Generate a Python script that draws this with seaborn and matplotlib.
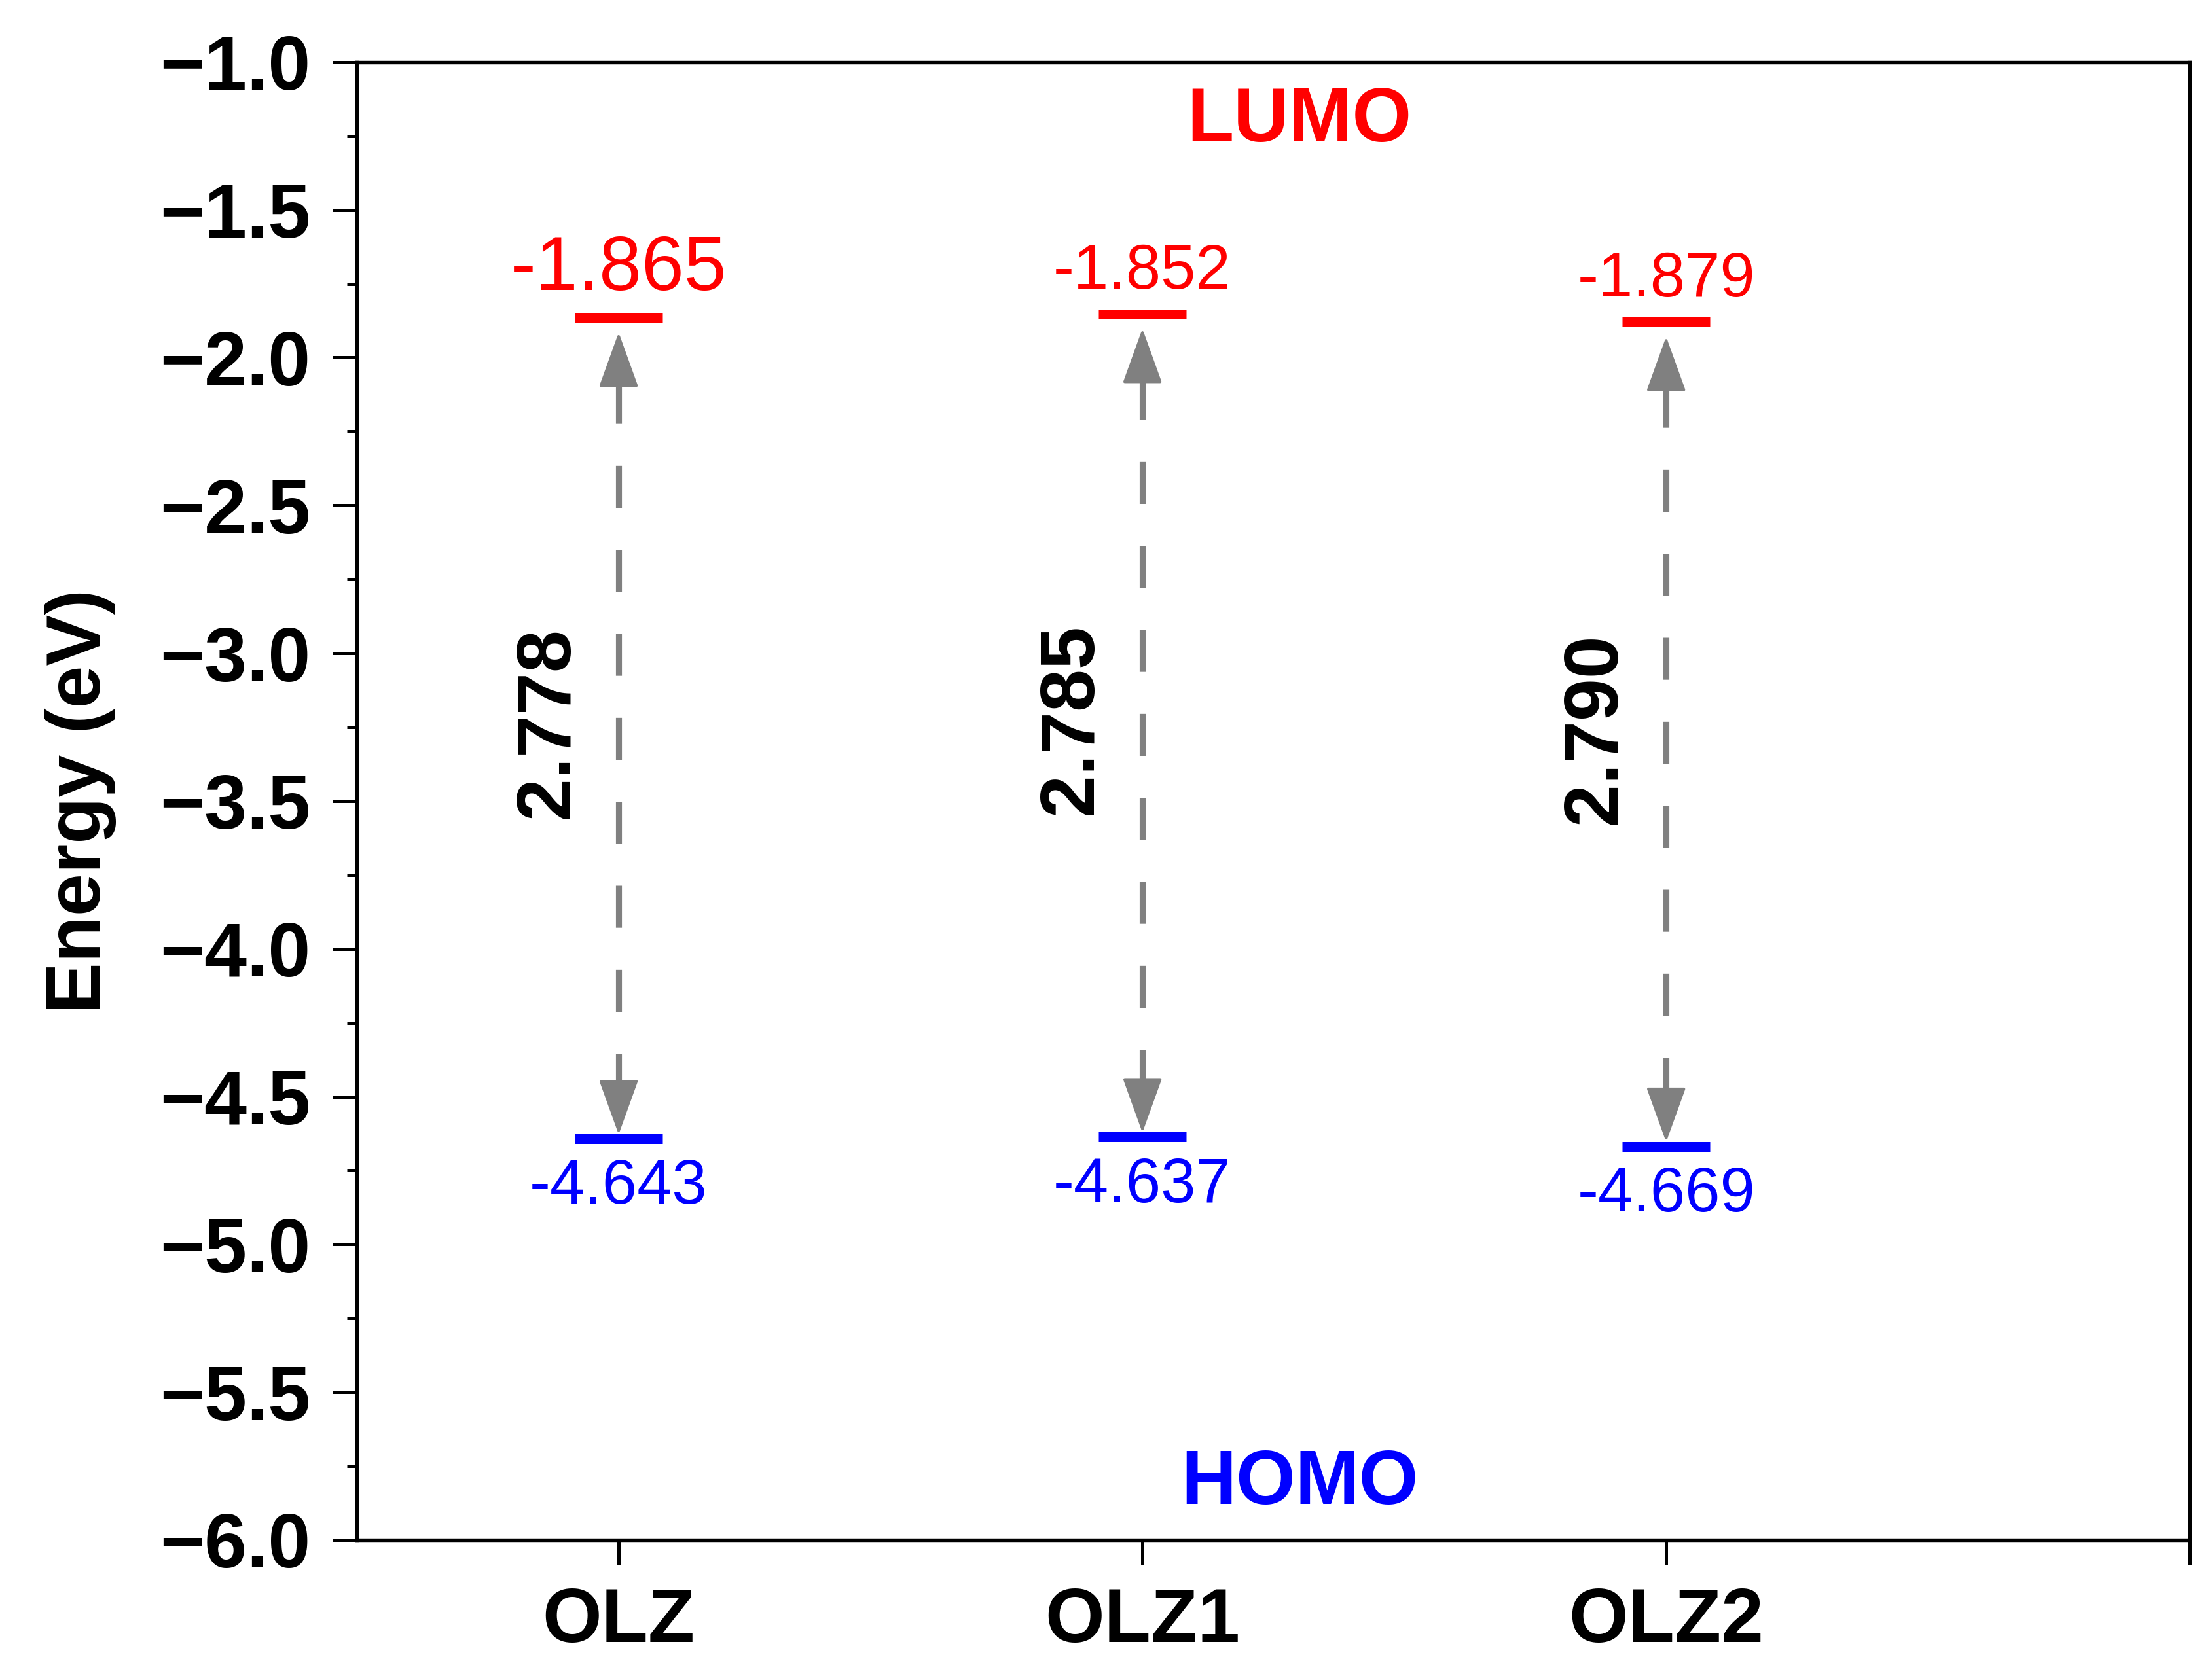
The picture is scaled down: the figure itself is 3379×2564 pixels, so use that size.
import matplotlib
matplotlib.use("Agg")
import matplotlib.pyplot as plt
import numpy as np
import pandas as pd
import seaborn as sns
from matplotlib.ticker import MultipleLocator

# frontier orbital energies (eV)
molecules = ["OLZ", "OLZ1", "OLZ2"]
lumo = [-1.865, -1.852, -1.879]
homo = [-4.643, -4.637, -4.669]
gap = [2.778, 2.785, 2.790]
lumo_label_sizes = [28, 23, 23]

df = pd.DataFrame({"molecule": molecules, "LUMO": lumo, "HOMO": homo, "gap": gap})
df["x"] = np.arange(1, len(df) + 1)

sns.set_theme(style="ticks")
plt.rcParams["font.family"] = ["Liberation Sans", "DejaVu Sans"]
plt.rcParams["font.weight"] = "bold"

fig = plt.figure(figsize=(3379 / 300, 2564 / 300), dpi=300)
ax = fig.add_axes([0.1613, 0.0823, 0.8287, 0.8807])

half = 0.084
ax.hlines(df["LUMO"], df["x"] - half, df["x"] + half, color="#ff0000", lw=3.6)
ax.hlines(df["HOMO"], df["x"] - half, df["x"] + half, color="#0000ff", lw=3.6)

grey = "#808080"
head = 0.165  # arrow head length in eV
for _, r in df.iterrows():
    top = r["LUMO"] - 0.05
    bot = r["HOMO"] + 0.015
    # dashed shaft between the two heads
    ax.plot([r["x"], r["x"]], [top - head, bot + head], color=grey, lw=2.2,
            dashes=(7, 7), solid_capstyle="butt", dash_capstyle="butt")
    # solid heads
    for tip, tail in ((top, top - head), (bot, bot + head)):
        ax.annotate("", xy=(r["x"], tip), xytext=(r["x"], tail),
                    arrowprops=dict(arrowstyle="-|>,head_length=1.8,head_width=0.65",
                                    mutation_scale=10, color=grey, lw=1.0,
                                    shrinkA=0, shrinkB=0))

    ax.annotate(f"{r['LUMO']:.3f}", xy=(r["x"], r["LUMO"]), xytext=(0, 4.5),
                textcoords="offset points", ha="center", va="bottom",
                color="#ff0000", fontweight="normal",
                fontsize=lumo_label_sizes[int(r["x"]) - 1])
    ax.annotate(f"{r['HOMO']:.3f}", xy=(r["x"], r["HOMO"]), xytext=(0, -7),
                textcoords="offset points", ha="center", va="top",
                color="#0000ff", fontweight="normal", fontsize=23)
    ax.text(r["x"] - 0.135, (r["LUMO"] + r["HOMO"]) / 2 + 0.02, f"{r['gap']:.3f}",
            rotation=90, ha="center", va="center", fontsize=28,
            fontweight="bold", color="black")

ax.text(2.30, -1.20, "LUMO", color="#ff0000", fontsize=28, fontweight="bold",
        ha="center", va="center")
ax.text(2.30, -5.81, "HOMO", color="#0000ff", fontsize=28, fontweight="bold",
        ha="center", va="center")

ax.set_xlim(0.5, 4)
ax.set_ylim(-6.0, -1.0)
ax.set_xticks([1, 2, 3, 4])
ax.set_xticklabels(molecules + [""])
ax.yaxis.set_major_locator(MultipleLocator(0.5))
ax.yaxis.set_minor_locator(MultipleLocator(0.25))
ax.tick_params(axis="both", which="major", direction="out", length=9, width=1.2,
               labelsize=28, color="black", labelcolor="black", pad=8)
ax.tick_params(axis="y", which="minor", direction="out", length=3.7, width=1.2,
               left=True, color="black")
for lbl in ax.get_xticklabels() + ax.get_yticklabels():
    lbl.set_fontweight("bold")

for s in ax.spines.values():
    s.set_linewidth(1.3)
    s.set_color("black")

ax.set_xlabel("")
ax.set_ylabel("Energy (eV)", fontsize=28, fontweight="bold", color="black")
ax.yaxis.set_label_coords(-0.131, 0.5)

fig.savefig("out.png", dpi=300)
